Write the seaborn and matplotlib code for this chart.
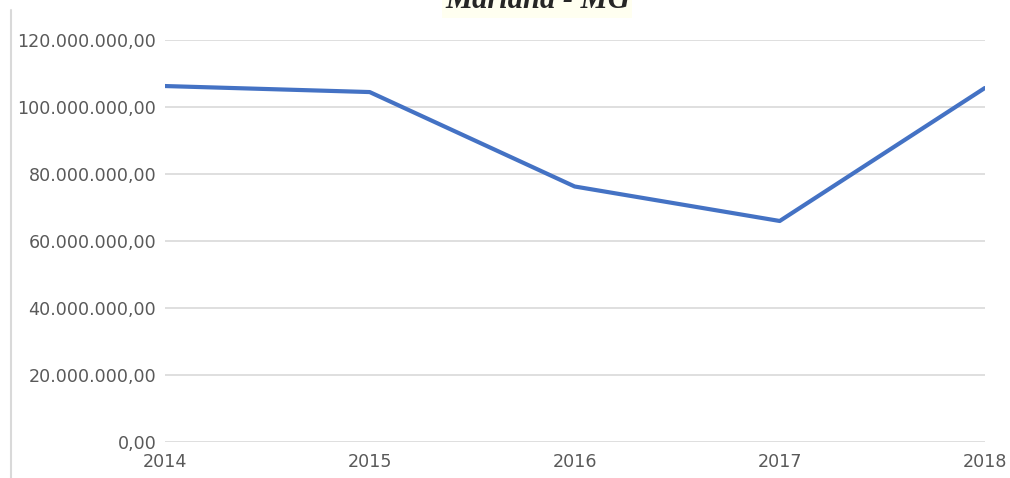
import pandas as pd
import matplotlib.pyplot as plt
import matplotlib.ticker as mticker
from matplotlib.lines import Line2D
import seaborn as sns

# values
years = [2014, 2015, 2016, 2017, 2018]
valores = [106_300_000, 104_500_000, 76_300_000, 66_000_000, 105_700_000]
titulo = "Mariana - MG"

df = pd.DataFrame({"ano": years, "valor": valores})


def br_fmt(v, pos):
    # 120000000 -> 120.000.000,00
    s = f"{v:,.2f}"
    return s.replace(",", "X").replace(".", ",").replace("X", ".")


sns.set_theme(style="white")
plt.rcParams['font.family'] = ['DejaVu Sans']

fig = plt.figure(figsize=(10.1, 4.78), dpi=100)
ax = fig.add_axes([0.163, 0.0753, 0.812, 0.8407])

sns.lineplot(data=df, x="ano", y="valor", color="#4472C4", linewidth=3.0, ax=ax)

ax.set_xlim(2014, 2018)
ax.set_ylim(0, 120_000_000)
ax.set_xticks(years)
ax.set_yticks(range(0, 120_000_001, 20_000_000))
ax.yaxis.set_major_formatter(mticker.FuncFormatter(br_fmt))
ax.grid(axis="y", color="#D9D9D9", linewidth=1.2)
ax.set_axisbelow(True)
for s in ax.spines.values():
    s.set_visible(False)
ax.tick_params(axis="y", length=0, pad=6, labelsize=12.6, labelcolor="#595959")
ax.tick_params(axis="x", length=0, pad=8, labelsize=12.6, labelcolor="#595959")
ax.set_xlabel("")
ax.set_ylabel("")
ax.margins(x=0)

# title, cut off by the top of the image as in the reference
fig.text(0.532, 0.983, titulo, ha="center", va="baseline", fontsize=22,
         fontweight="bold", fontstyle="italic", family=["Liberation Serif"],
         bbox=dict(facecolor="#FFFFF0", edgecolor="none", pad=2))

# thin border line on the left
fig.add_artist(Line2D([0.0105, 0.0105], [0.0, 0.98], color="#D9D9D9", linewidth=1.5))

fig.savefig("out.png", dpi=100)
